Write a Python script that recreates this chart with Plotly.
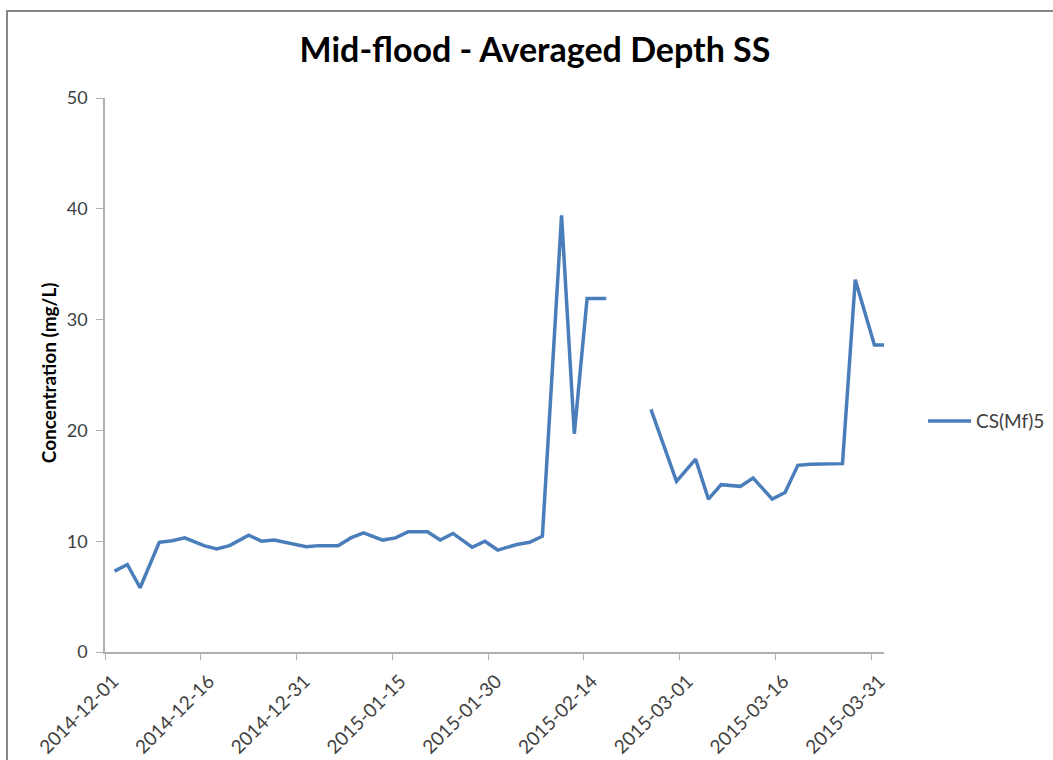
import plotly.graph_objects as go

dates = ["2014-12-02", "2014-12-04", "2014-12-06", "2014-12-09", "2014-12-11", "2014-12-13",
         "2014-12-16", "2014-12-18", "2014-12-20", "2014-12-23", "2014-12-25", "2014-12-27",
         "2015-01-01", "2015-01-03", "2015-01-06", "2015-01-08", "2015-01-10", "2015-01-13",
         "2015-01-15", "2015-01-17", "2015-01-20", "2015-01-22", "2015-01-24", "2015-01-27",
         "2015-01-29", "2015-01-31", "2015-02-03", "2015-02-05", "2015-02-07", "2015-02-10",
         "2015-02-12", "2015-02-14", "2015-02-17", "2015-02-20", "2015-02-24", "2015-02-28",
         "2015-03-03", "2015-03-05", "2015-03-07", "2015-03-10", "2015-03-12", "2015-03-15",
         "2015-03-17", "2015-03-19", "2015-03-21", "2015-03-26", "2015-03-28", "2015-03-31",
         "2015-04-02"]
values = [7.3, 7.9, 5.8, 9.9, 10.05, 10.3,
          9.6, 9.3, 9.6, 10.55, 10.0, 10.1,
          9.5, 9.6, 9.6, 10.3, 10.75, 10.1,
          10.3, 10.85, 10.85, 10.1, 10.7, 9.45,
          10.0, 9.2, 9.7, 9.9, 10.45, 39.4,
          19.7, 31.9, 31.9, None, 21.9, 15.4,
          17.4, 13.8, 15.1, 14.95, 15.7, 13.8,
          14.4, 16.85, 16.95, 17.0, 33.6, 27.7,
          27.7]
series_name = "CS(Mf)5"
tick_labels = ["2014-12-01", "2014-12-16", "2014-12-31", "2015-01-15", "2015-01-30",
               "2015-02-14", "2015-03-01", "2015-03-16", "2015-03-31"]
y_ticks = [0, 10, 20, 30, 40, 50]

# points sit in the middle of their day on the Excel date axis
x_vals = [d + " 12:00" for d in dates]

FONT = "Lato, 'Open Sans', sans-serif"
LINE_COLOR = "#4A7EBB"

fig = go.Figure()
fig.add_trace(go.Scatter(
    x=x_vals, y=values, mode="lines", name=series_name,
    line=dict(color=LINE_COLOR, width=3.5), connectgaps=False,
    showlegend=False,
))

fig.update_layout(
    width=1053, height=760,
    margin=dict(l=105, r=169, t=98, b=108, autoexpand=False),
    paper_bgcolor="white", plot_bgcolor="white",
    font=dict(family=FONT, color="#404040", size=18),
    title=dict(text="<b>Mid-flood - Averaged Depth SS</b>", x=0.552, xref="paper",
               xanchor="center", y=1 - 50 / 760, yanchor="middle",
               font=dict(family=FONT, size=34, color="black")),
    xaxis=dict(
        type="date", range=["2014-12-01", "2015-04-02"], automargin=False,
        tickmode="array", tickvals=tick_labels, ticktext=tick_labels,
        tickangle=-45, showgrid=False, zeroline=False,
        showline=True, linecolor="#B0B0B0", linewidth=1.5,
        ticks="outside", ticklen=6, tickcolor="#B0B0B0",
        ticklabelshift=8, ticklabelstandoff=3,
        tickfont=dict(family=FONT, size=19, color="#404040"),
    ),
    yaxis=dict(
        range=[0, 50], tickmode="array", tickvals=y_ticks, automargin=False,
        showgrid=False, zeroline=False,
        showline=True, linecolor="#B0B0B0", linewidth=1.5,
        ticks="outside", ticklen=7, tickcolor="#B0B0B0",
        ticklabelstandoff=5,
        tickfont=dict(family=FONT, size=18, color="#404040"),
    ),
    annotations=[
        dict(text="<b>Concentration (mg/L)</b>", textangle=-90,
             xref="paper", yref="paper", x=-0.0732, y=0.505,
             xanchor="center", yanchor="middle", showarrow=False,
             font=dict(family=FONT, size=19, color="black")),
        dict(text=series_name, xref="paper", yref="paper", x=1.1155, y=0.417,
             xanchor="left", yanchor="middle", showarrow=False,
             font=dict(family=FONT, size=19, color="#404040")),
    ],
    shapes=[
        dict(type="rect", xref="paper", yref="paper",
             x0=-0.1258, x1=1.25, y0=-0.25, y1=1.157,
             line=dict(color="#868686", width=2), fillcolor="rgba(0,0,0,0)"),
        dict(type="line", xref="paper", yref="paper",
             x0=1.0565, x1=1.1117, y0=0.417, y1=0.417,
             line=dict(color=LINE_COLOR, width=3.5)),
    ],
)

fig.write_html("out.html", config={"displayModeBar": False},
               post_script="document.body.style.margin='0';")
